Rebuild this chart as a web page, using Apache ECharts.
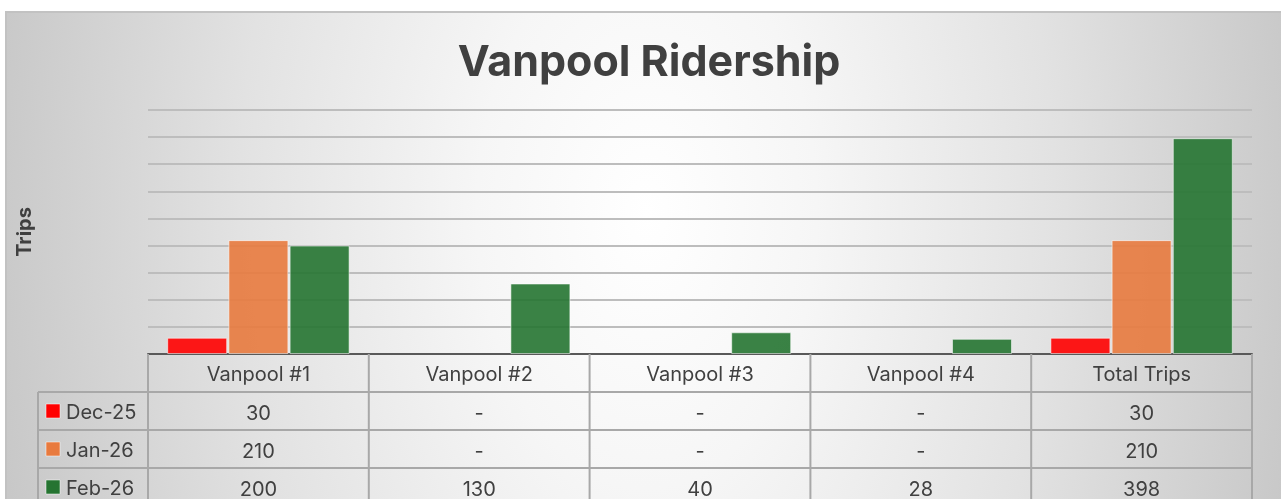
<!DOCTYPE html>
<html>
<head>
<meta charset="utf-8">
<script src="https://cdn.jsdelivr.net/npm/echarts@6/dist/echarts.min.js"></script>
<style>
  html, body { margin:0; padding:0; width:1281px; height:499px; overflow:hidden; background:#ffffff; }
  #bg { position:absolute; left:5px; top:11px; width:1290px; height:520px;
        border-left:2px solid #c2c2c2; border-top:2px solid #c2c2c2; box-sizing:border-box;
        background: radial-gradient(ellipse 680px 1100px at 640px 200px, #ffffff 0%, #f6f6f6 25%, #e2e2e2 60%, #c6c6c6 100%); }
  #chart { position:absolute; left:0; top:0; width:1281px; height:499px; }
</style>
</head>
<body>
<div id="bg"></div>
<div id="chart"></div>
<script>
const categories = ['Vanpool #1', 'Vanpool #2', 'Vanpool #3', 'Vanpool #4', 'Total Trips'];
const seriesNames = ['Dec-25', 'Jan-26', 'Feb-26'];
const dec25 = [30, null, null, null, 30];
const jan26 = [210, null, null, null, 210];
const feb26 = [200, 130, 40, 28, 398];
const seriesColors = ['#FF0000', '#E87A3E', '#257431'];

const FONT = 'Inter, "Noto Sans", sans-serif';
const TXT = '#404040';
const G = { left:148, top:110, width:1104, height:244 };
const rowH = 38;
const legendLeft = 38;
const lineColor = '#A8A8A8';
const tableFont = 20;

const chart = echarts.init(document.getElementById('chart'), null, { renderer:'canvas' });
const allSeries = [dec25, jan26, feb26];

// table graphics built from data arrays and grid geometry
const graphics = [];
const catW = G.width / categories.length;
const base = G.top + G.height;
const nRows = allSeries.length;
const tableBottom = base + rowH * (nRows + 1);
for (let i = 0; i <= categories.length; i++) {
  const x = G.left + i * catW;
  graphics.push({ type:'line', silent:true, z:10,
    shape:{ x1:x, y1:base, x2:x, y2:tableBottom },
    style:{ stroke:lineColor, lineWidth:2 } });
}
graphics.push({ type:'line', silent:true, z:10,
  shape:{ x1:legendLeft, y1:base + rowH, x2:legendLeft, y2:tableBottom },
  style:{ stroke:lineColor, lineWidth:2 } });
for (let r = 1; r <= nRows + 1; r++) {
  const y = base + r * rowH;
  graphics.push({ type:'line', silent:true, z:10,
    shape:{ x1:legendLeft, y1:y, x2:G.left + G.width, y2:y },
    style:{ stroke:lineColor, lineWidth:2 } });
}
allSeries.forEach((vals, r) => {
  const cy = base + (r + 1) * rowH + rowH / 2;
  graphics.push({ type:'rect', silent:true, z:11,
    shape:{ x:46, y:cy - 7, width:14, height:14 },
    style:{ fill:seriesColors[r], stroke:'rgba(255,255,255,0.5)', lineWidth:1 } });
  graphics.push({ type:'text', silent:true, z:11,
    x:66, y:cy + 2,
    style:{ text:seriesNames[r], fill:TXT, fontSize:tableFont, fontFamily:FONT,
            align:'left', verticalAlign:'middle', textAlign:'left', textVerticalAlign:'middle' } });
  vals.forEach((v, c) => {
    graphics.push({ type:'text', silent:true, z:11,
      x:G.left + c * catW + catW / 2, y:cy + 3,
      style:{ text: v == null ? '-' : String(v), fill:TXT, fontSize:tableFont, fontFamily:FONT,
              align:'center', verticalAlign:'middle', textAlign:'center', textVerticalAlign:'middle' } });
  });
});

chart.setOption({
  backgroundColor:'transparent',
  animation:false,
  title:{ text:'Vanpool Ridership', left:644, top:37, textAlign:'center',
    textStyle:{ fontFamily:FONT, fontSize:43, fontWeight:'bold', color:TXT } },
  grid:{ left:G.left, top:G.top, width:G.width, height:G.height, containLabel:false },
  xAxis:{ type:'category', data:categories,
    axisLine:{ show:true, lineStyle:{ color:'#595959', width:2 } },
    axisTick:{ show:false },
    axisLabel:{ color:TXT, fontSize:tableFont, fontFamily:FONT, margin:11 } },
  yAxis:{ type:'value', min:0, max:450, interval:50,
    name:'Trips', nameLocation:'middle', nameGap:113, nameRotate:90,
    nameTextStyle:{ fontFamily:FONT, fontSize:20, fontWeight:'bold', color:TXT },
    axisLabel:{ show:false }, axisLine:{ show:false }, axisTick:{ show:false },
    splitLine:{ show:true, lineStyle:{ color:'#BDBDBD', width:2 } } },
  series: allSeries.map((d, i) => ({
    name:seriesNames[i], type:'bar', data:d, barWidth:60, barGap:'2%',
    itemStyle:{ color:seriesColors[i], opacity:0.9, borderColor:'rgba(255,255,255,0.6)', borderWidth:1 }
  })),
  graphic: graphics
});
</script>
</body>
</html>
